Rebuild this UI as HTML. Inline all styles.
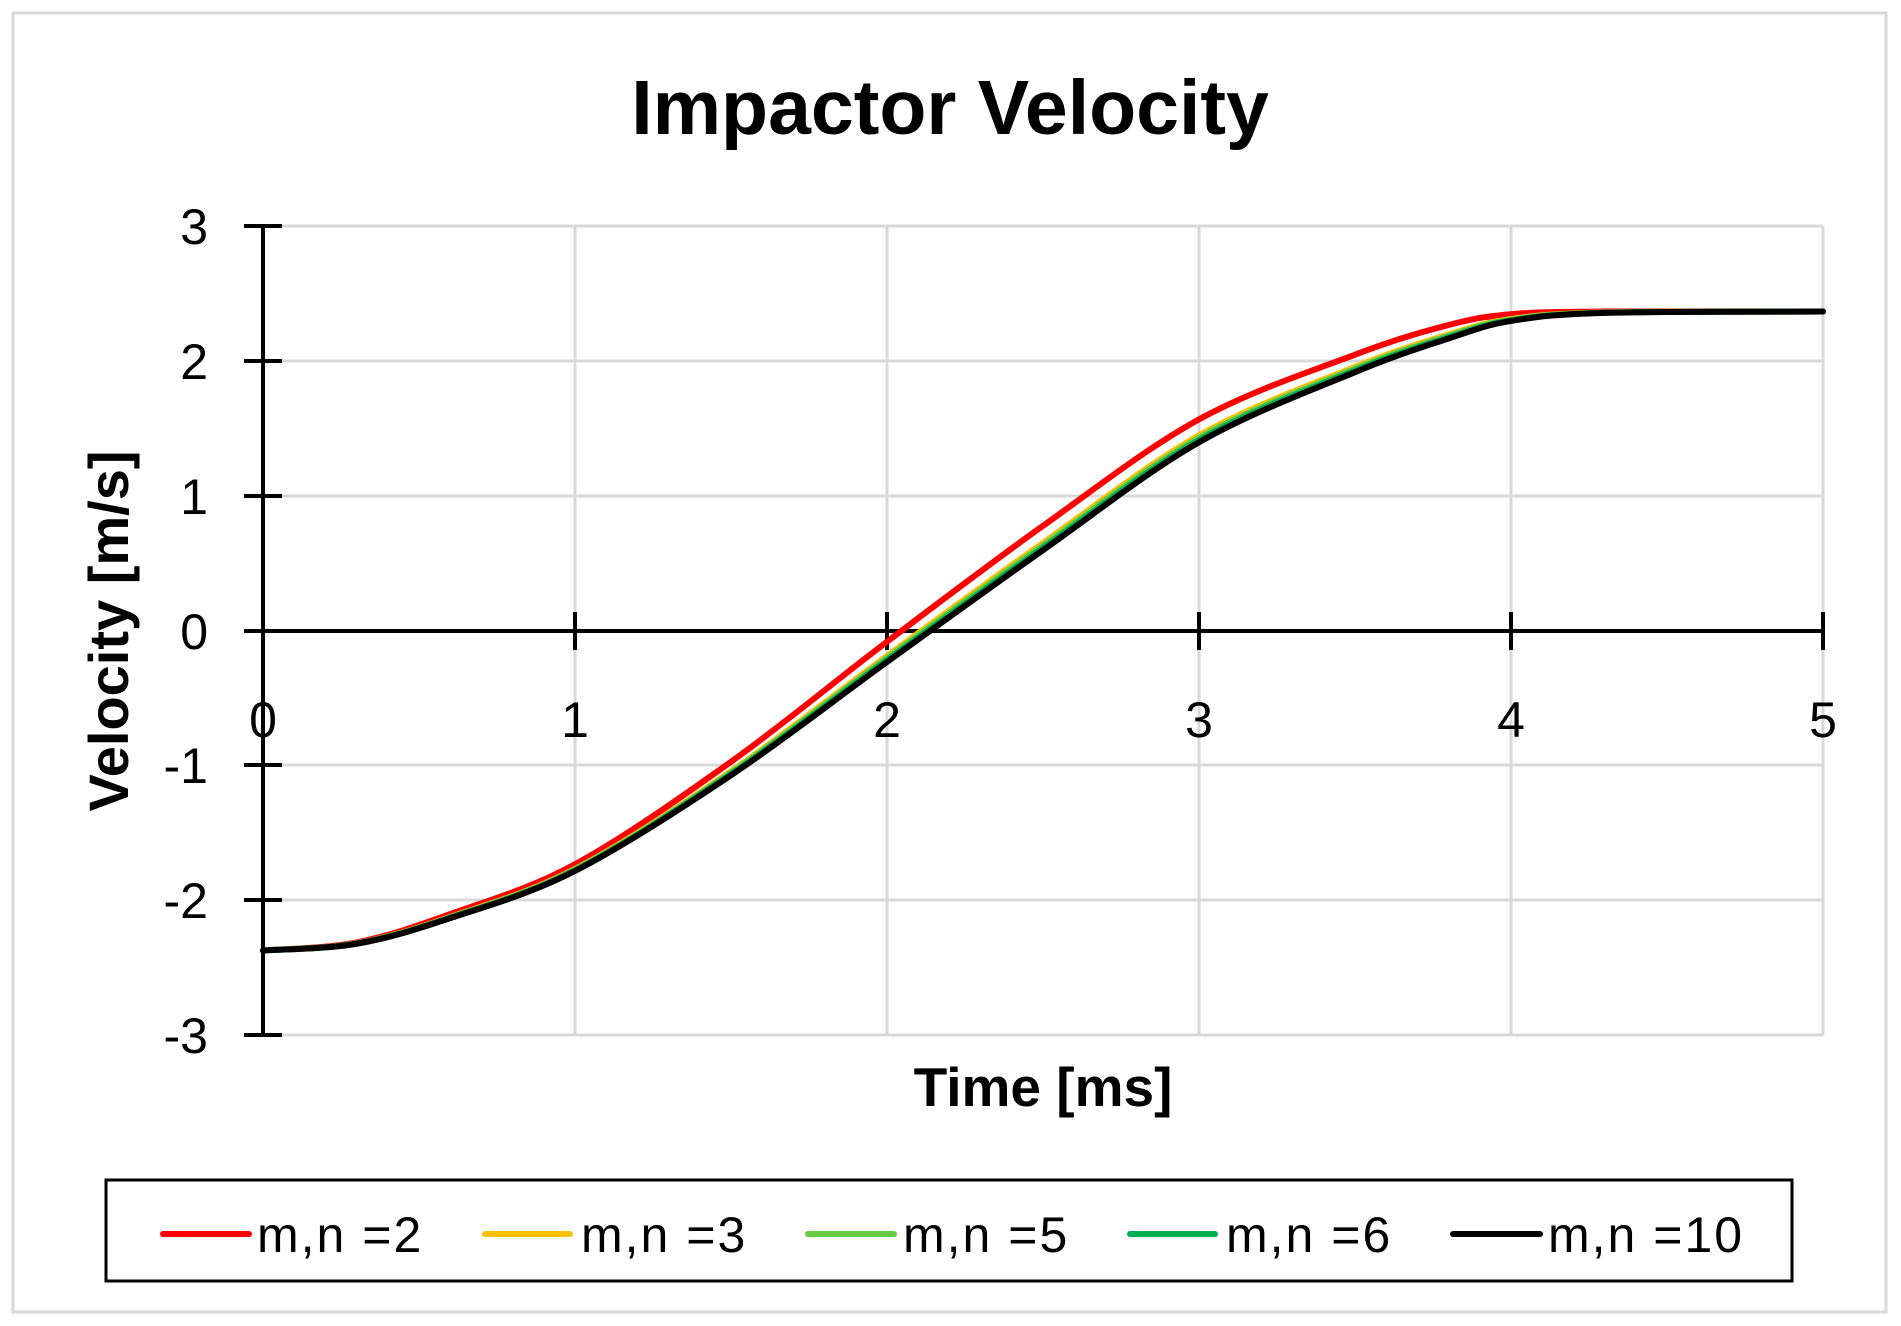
<!DOCTYPE html>
<html><head><meta charset="utf-8"><style>html,body{margin:0;padding:0;background:#fff}svg{display:block}</style></head>
<body>
<svg id="s" width="1901" height="1326" xmlns="http://www.w3.org/2000/svg" font-family="Liberation Sans, sans-serif">
<rect x="0" y="0" width="1901" height="1326" fill="#fff"/>
<rect x="13" y="13" width="1873" height="1299" fill="none" stroke="#d9d9d9" stroke-width="3"/>
<text x="950" y="134" font-size="77" font-weight="bold" text-anchor="middle">Impactor Velocity</text>
<g stroke="#d9d9d9" stroke-width="3">
<line x1="263" y1="226" x2="1823" y2="226"/><line x1="263" y1="361" x2="1823" y2="361"/><line x1="263" y1="496" x2="1823" y2="496"/><line x1="263" y1="765" x2="1823" y2="765"/><line x1="263" y1="900" x2="1823" y2="900"/><line x1="263" y1="1035" x2="1823" y2="1035"/>
<line x1="575" y1="226" x2="575" y2="1035"/><line x1="887" y1="226" x2="887" y2="1035"/><line x1="1199" y1="226" x2="1199" y2="1035"/><line x1="1511" y1="226" x2="1511" y2="1035"/><line x1="1823" y1="226" x2="1823" y2="1035"/>
</g>
<g stroke="#000" stroke-width="4">
<line x1="263" y1="226" x2="263" y2="1035"/><line x1="263" y1="631" x2="1823" y2="631"/>
<line x1="244" y1="226" x2="282" y2="226"/><line x1="244" y1="361" x2="282" y2="361"/><line x1="244" y1="496" x2="282" y2="496"/><line x1="244" y1="631" x2="282" y2="631"/><line x1="244" y1="765" x2="282" y2="765"/><line x1="244" y1="900" x2="282" y2="900"/><line x1="244" y1="1035" x2="282" y2="1035"/>
<line x1="575" y1="612" x2="575" y2="650"/><line x1="887" y1="612" x2="887" y2="650"/><line x1="1199" y1="612" x2="1199" y2="650"/><line x1="1511" y1="612" x2="1511" y2="650"/><line x1="1823" y1="612" x2="1823" y2="650"/>
</g>
<g font-size="50" text-anchor="end">
<text x="208" y="244">3</text><text x="208" y="379">2</text><text x="208" y="514">1</text><text x="208" y="649">0</text><text x="208" y="783">-1</text><text x="208" y="918">-2</text><text x="208" y="1053">-3</text>
</g>
<g font-size="50" text-anchor="middle">
<text x="263" y="737">0</text><text x="575" y="737">1</text><text x="887" y="737">2</text><text x="1199" y="737">3</text><text x="1511" y="737">4</text><text x="1823" y="737">5</text>
</g>
<text x="0" y="0" font-size="56" font-weight="bold" text-anchor="middle" transform="translate(128,631) rotate(-90)">Velocity [m/s]</text>
<text x="1043" y="1106" font-size="55" font-weight="bold" text-anchor="middle">Time [ms]</text>
<g id="curves" fill="none" stroke-width="6" stroke-linejoin="round" stroke-linecap="round"></g>
<rect x="106" y="1180" width="1686" height="101" fill="none" stroke="#000" stroke-width="3"/>
<g stroke-width="6" stroke-linecap="round">
<line x1="163" y1="1234" x2="249" y2="1234" stroke="#ff0000"/>
<line x1="485" y1="1234" x2="570" y2="1234" stroke="#ffc000"/>
<line x1="808" y1="1234" x2="894" y2="1234" stroke="#66cc44"/>
<line x1="1130" y1="1234" x2="1215" y2="1234" stroke="#00b050"/>
<line x1="1453" y1="1234" x2="1540" y2="1234" stroke="#000"/>
</g>
<g font-size="50" letter-spacing="2">
<text x="257" y="1252">m,n =2</text><text x="581" y="1252">m,n =3</text><text x="903" y="1252">m,n =5</text><text x="1226" y="1252">m,n =6</text><text x="1548" y="1252">m,n =10</text>
</g>
</svg>
<script>
(function(){
var red=[[0,-2.37],[.3,-2.31],[.6,-2.1],[1,-1.73],[1.5,-0.97],[2,-0.08],[2.5,0.78],[3,1.57],[3.5,2.05],[3.8,2.27],[4,2.35],[4.3,2.37],[5,2.37]];
var blk=[[0,-2.37],[.3,-2.32],[.6,-2.13],[1,-1.78],[1.5,-1.07],[2,-0.23],[2.5,0.6],[3,1.4],[3.5,1.92],[3.8,2.17],[4,2.3],[4.3,2.36],[5,2.37]];
function mix(f){return red.map(function(p,i){return [p[0],p[1]*f+blk[i][1]*(1-f)];});}
function X(t){return 263+t*312;}function Y(v){return 631-v*134.8;}
function path(pts){
 var P=pts.map(function(p){return [X(p[0]),Y(p[1])];});
 var d="M"+P[0][0]+","+P[0][1];
 for(var i=0;i<P.length-1;i++){
  var p0=P[i-1]||P[i],p1=P[i],p2=P[i+1],p3=P[i+2]||P[i+1];
  var c1=[p1[0]+(p2[0]-p0[0])/6,p1[1]+(p2[1]-p0[1])/6];
  var c2=[p2[0]-(p3[0]-p1[0])/6,p2[1]-(p3[1]-p1[1])/6];
  d+=" C"+c1+" "+c2+" "+p2;
 }
 return d;
}
var g=document.getElementById("curves");
var sets=[[red,"#ff0000"],[mix(0.3),"#ffc000"],[mix(0.2),"#66cc44"],[mix(0.1),"#00b050"],[blk,"#000"]];
sets.forEach(function(s){
 var e=document.createElementNS("http://www.w3.org/2000/svg","path");
 e.setAttribute("d",path(s[0]));e.setAttribute("stroke",s[1]);g.appendChild(e);
});
})();
</script>
</body></html>
